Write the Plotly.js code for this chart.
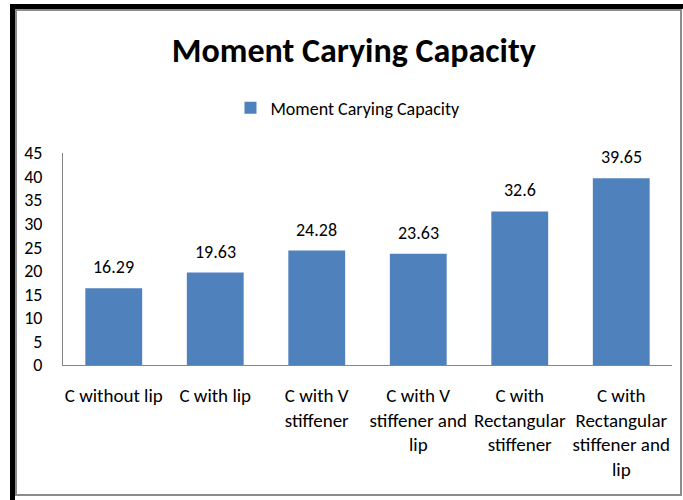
<!DOCTYPE html>
<html>
<head>
<meta charset="utf-8">
<script src="https://cdn.plot.ly/plotly-3.0.1.min.js"></script>
<style>
html,body{margin:0;padding:0;background:#fff;}
#wrap{position:relative;width:683px;height:500px;overflow:hidden;}
#chart{position:absolute;left:0;top:0;width:683px;height:500px;}
.fr{position:absolute;pointer-events:none;}
</style>
</head>
<body>
<div id="wrap">
<div id="chart"></div>
<div class="fr" style="left:10px;top:4px;width:673px;height:5px;background:#000;"></div>
<div class="fr" style="left:10px;top:4px;width:5px;height:496px;background:#000;"></div>
<div class="fr" style="left:15px;top:9px;width:663px;height:483px;border:2px solid #8c8c8c;"></div>
</div>
<script>
var chartTitle = "Moment Carying Capacity";
var seriesName = "Moment Carying Capacity";
var categories = [
  "C without lip",
  "C with lip",
  "C with V<br>stiffener",
  "C with V<br>stiffener and<br>lip",
  "C with<br>Rectangular<br>stiffener",
  "C with<br>Rectangular<br>stiffener and<br>lip"
];
var values = [16.29, 19.63, 24.28, 23.63, 32.6, 39.65];
var valueLabels = ["16.29", "19.63", "24.28", "23.63", "32.6", "39.65"];
var yTicks = [0, 5, 10, 15, 20, 25, 30, 35, 40, 45];

var FONT = "Calibri, Carlito, Lato, sans-serif";
var blue = "#4f81bd";

var trace = {
  type: "bar",
  x: categories,
  y: values,
  name: seriesName,
  marker: {color: blue},
  showlegend: true,
  hoverinfo: "x+y"
};

var labelAnnotations = categories.map(function (c, i) {
  return {
    x: c, y: values[i], xref: "x", yref: "y",
    text: valueLabels[i], showarrow: false,
    yanchor: "bottom", yshift: 8,
    font: {family: FONT, size: 18, color: "#000"}
  };
});

var layout = {
  width: 683, height: 500,
  margin: {l: 63, r: 11, t: 153, b: 135},
  paper_bgcolor: "#fff", plot_bgcolor: "#fff",
  font: {family: FONT, size: 18, color: "#000"},
  title: {
    text: "<b>" + chartTitle + "</b>",
    font: {family: FONT, size: 34, color: "#000"},
    x: 0.518, xanchor: "center", y: 0.9, yanchor: "middle", yref: "container"
  },
  showlegend: true,
  legend: {
    orientation: "h", x: 0.275, xanchor: "left", y: 0.784, yanchor: "middle",
    yref: "container",
    font: {family: FONT, size: 18, color: "#000"},
    itemwidth: 30
  },
  bargap: 0.44,
  annotations: labelAnnotations,
  xaxis: {
    type: "category",
    showline: true, linecolor: "#868686", linewidth: 1,
    showgrid: false, zeroline: false, ticks: "",
    tickangle: 0,
    ticklabelstandoff: 13,
    tickfont: {family: FONT, size: 19, color: "#000"}
  },
  yaxis: {
    range: [0, 45],
    tickvals: yTicks,
    ticktext: yTicks.map(String),
    showline: true, linecolor: "#868686", linewidth: 1,
    showgrid: false, zeroline: false, ticks: "",
    ticklabelstandoff: 16,
    tickfont: {family: FONT, size: 18, color: "#000"}
  }
};

Plotly.newPlot("chart", [trace], layout, {displayModeBar: false, staticPlot: true});
</script>
</body>
</html>
